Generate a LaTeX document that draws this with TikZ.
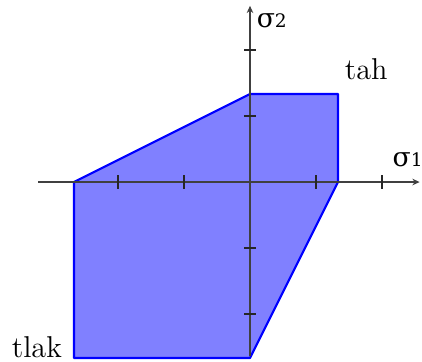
\documentclass[tikz,border=0pt]{standalone}
\usepackage{fontspec}
\newfontfamily\greekfont{DejaVu Serif}
\usetikzlibrary{arrows.meta}
\begin{document}
\begin{tikzpicture}[
  >={Stealth[length=1.1mm,width=1mm]},
  every node/.style={font=\fontsize{13}{15}\selectfont,inner sep=1pt},
  sigma/.style={font=\greekfont\fontsize{11.5}{13}\selectfont},
  axis/.style={->,line width=0.65pt,draw=black!75},
  tickmark/.style={line width=0.6pt,draw=black!85},
  region/.style={draw=blue,line width=0.9pt,fill=blue!50,line join=round}
]
  \useasboundingbox (-3.788,-2.712) rectangle (2.606,2.758);
  % admissible stress region
  \filldraw[region] (-8/3,0) -- (0,4/3) -- (4/3,4/3) -- (4/3,0) -- (0,-8/3) -- (-8/3,-8/3) -- cycle;
  % axes
  \coordinate (xl) at (-3.21,0);
  \coordinate (xr) at (2.57,0);
  \coordinate (yb) at (0,-2.64);
  \coordinate (yt) at (0,2.67);
  \draw[axis] (xl) -- (xr);
  \draw[axis] (yb) -- (yt);
  \foreach \t in {-2,-1,1,2} {
    \draw[tickmark] (\t,-0.1) -- (\t,0.1);
    \draw[tickmark] (-0.09,\t) -- (0.09,\t);
  }
  \node[sigma] (s1) at (2.39,0.33) {σ{\fontsize{8}{9}\selectfont 1}};
  \node[sigma] (s2) at (0.33,2.45) {σ{\fontsize{8}{9}\selectfont 2}};
  \node (tah) at (1.76,1.71) {tah};
  \node (tlak) at (-3.23,-2.5) {tlak};
\end{tikzpicture}
\end{document}
